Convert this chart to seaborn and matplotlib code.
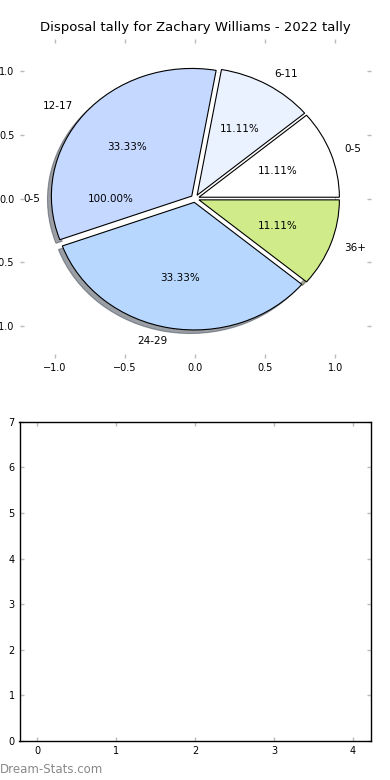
import matplotlib
matplotlib.use("Agg")
import matplotlib.pyplot as plt
import matplotlib.patches as mpatches
import seaborn as sns

# --- data ---
labels = ['0-5', '6-11', '12-17', '24-29', '36+']
counts = [1, 1, 3, 3, 1]
slice_colors = ['#ffffff', '#eaf1ff', '#c5d8ff', '#b7d7ff', '#cfeb8a']
total_label = ['0-5']
total_value = [1]

x_ticks = [-1.0, -0.5, 0.0, 0.5, 1.0]
y_ticks = [-1.0, -0.5, 0.0, 0.5, 1.0]
bottom_xticks = [0, 1, 2, 3, 4]
bottom_yticks = [0, 1, 2, 3, 4, 5, 6, 7]

sns.set_theme(style='white')
plt.rcParams['font.family'] = ['DejaVu Sans']
plt.rcParams['text.color'] = 'black'

fig, (ax1, ax2) = plt.subplots(2, 1, figsize=(3.9, 7.8), dpi=100)
fig.subplots_adjust(left=0.05, right=0.95, top=0.95, bottom=0.05, hspace=0.2)

# per-bucket pie with shadow
wedges, texts, autotexts = ax1.pie(
    counts, labels=labels, colors=slice_colors, autopct='%1.2f%%',
    explode=[0.03] * len(counts), shadow=True, startangle=0,
    wedgeprops={'edgecolor': 'black', 'linewidth': 0.8},
    textprops={'fontsize': 7.5})

# overall tally pie: plain white disc sitting between shadows and wedges
tw, _, _ = ax1.pie(total_value, labels=total_label, autopct='%1.2f%%',
                   colors=['white'], wedgeprops={'linewidth': 0},
                   textprops={'fontsize': 7.5})

for p in ax1.patches:
    if isinstance(p, mpatches.Shadow):
        p.set_zorder(0.5)
for w in tw:
    w.set_zorder(0.7)
for w in wedges:
    w.set_zorder(1)

ax1.set_aspect('auto')
ax1.set_xlim(-1.25, 1.25)
ax1.set_ylim(-1.25, 1.25)
ax1.set_xticks(x_ticks)
ax1.set_yticks(y_ticks)
ax1.set_frame_on(False)
ax1.set_title('Disposal tally for Zachary Williams - 2022 tally', fontsize=9.5)

ax2.set_xlim(-0.225, 4.225)
ax2.set_ylim(0, 7)
ax2.set_xticks(bottom_xticks)
ax2.set_yticks(bottom_yticks)
for s in ax2.spines.values():
    s.set_color('black')
    s.set_linewidth(1.0)

for ax in (ax1, ax2):
    ax.tick_params(axis='both', which='both', direction='in', length=3, width=1,
                   color='#bbbbbb', labelsize=7, labelcolor='black',
                   top=True, right=True, bottom=True, left=True)

fig.text(0.0, 0.013, 'Dream-Stats.com', fontsize=8.5, color='#888888',
         ha='left', va='center')

fig.savefig('out.png', dpi=100)
